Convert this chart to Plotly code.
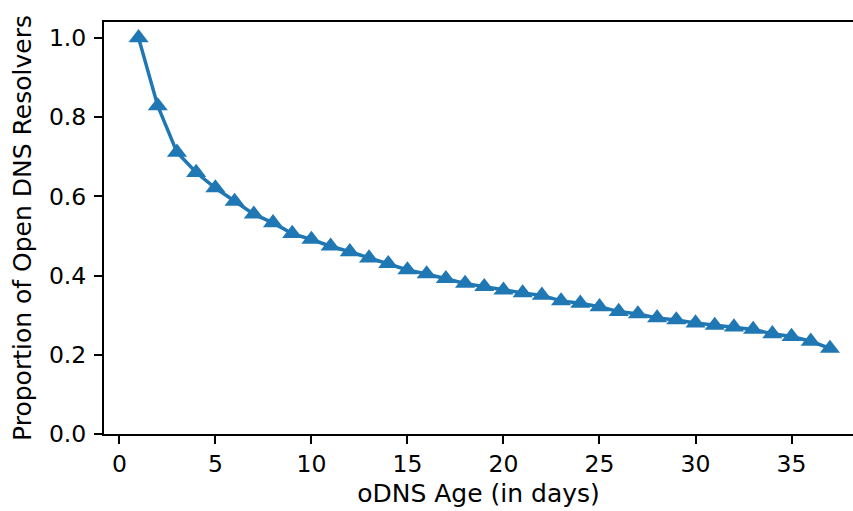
import plotly.graph_objects as go

# oDNS age (days) vs proportion of open DNS resolvers still alive
age_days = list(range(1, 38))
proportion = [
    1.000, 0.828, 0.711, 0.660, 0.621, 0.587, 0.555, 0.533, 0.506, 0.491,
    0.474, 0.460, 0.444, 0.430, 0.414, 0.404, 0.392, 0.380, 0.372, 0.363,
    0.356, 0.350, 0.336, 0.330, 0.321, 0.309, 0.303, 0.293, 0.288, 0.280,
    0.274, 0.270, 0.264, 0.253, 0.246, 0.234, 0.216,
]
x_ticks = [0, 5, 10, 15, 20, 25, 30, 35]
y_ticks = [0.0, 0.2, 0.4, 0.6, 0.8, 1.0]

blue = '#1f77b4'
font = dict(family='DejaVu Sans', size=23.5, color='black')
title_font = dict(family='DejaVu Sans', size=25, color='black')

fig = go.Figure()
fig.add_trace(go.Scatter(
    x=age_days,
    y=proportion,
    mode='lines+markers',
    line=dict(color=blue, width=3.5),
    marker=dict(symbol='triangle-up', size=17.5, color=blue),
    showlegend=False,
))

fig.update_layout(
    width=853, height=511,
    margin=dict(l=104, r=0, t=22, b=77),
    paper_bgcolor='white',
    plot_bgcolor='white',
    font=font,
    xaxis=dict(
        title=dict(text='oDNS Age (in days)', font=title_font, standoff=7),
        range=[-0.8, 38.2],
        tickvals=x_ticks,
        showgrid=False, zeroline=False,
        showline=True, linecolor='black', linewidth=2, mirror=True,
        ticks='outside', ticklen=8, tickwidth=2, tickcolor='black',
        tickfont=font, ticklabelstandoff=0,
    ),
    yaxis=dict(
        title=dict(text='Proportion of Open DNS Resolvers', font=title_font, standoff=10),
        range=[0, 1.04],
        tickvals=y_ticks,
        tickformat='.1f',
        showgrid=False, zeroline=False,
        showline=True, linecolor='black', linewidth=2,
        ticks='outside', ticklen=8, tickwidth=2, tickcolor='black',
        tickfont=font, ticklabelstandoff=3,
    ),
)

# page body has a default 8px margin; drop it so the figure fills the window
fig.write_html("out.html", config={'displayModeBar': False},
               post_script="document.body.style.margin='0';")
